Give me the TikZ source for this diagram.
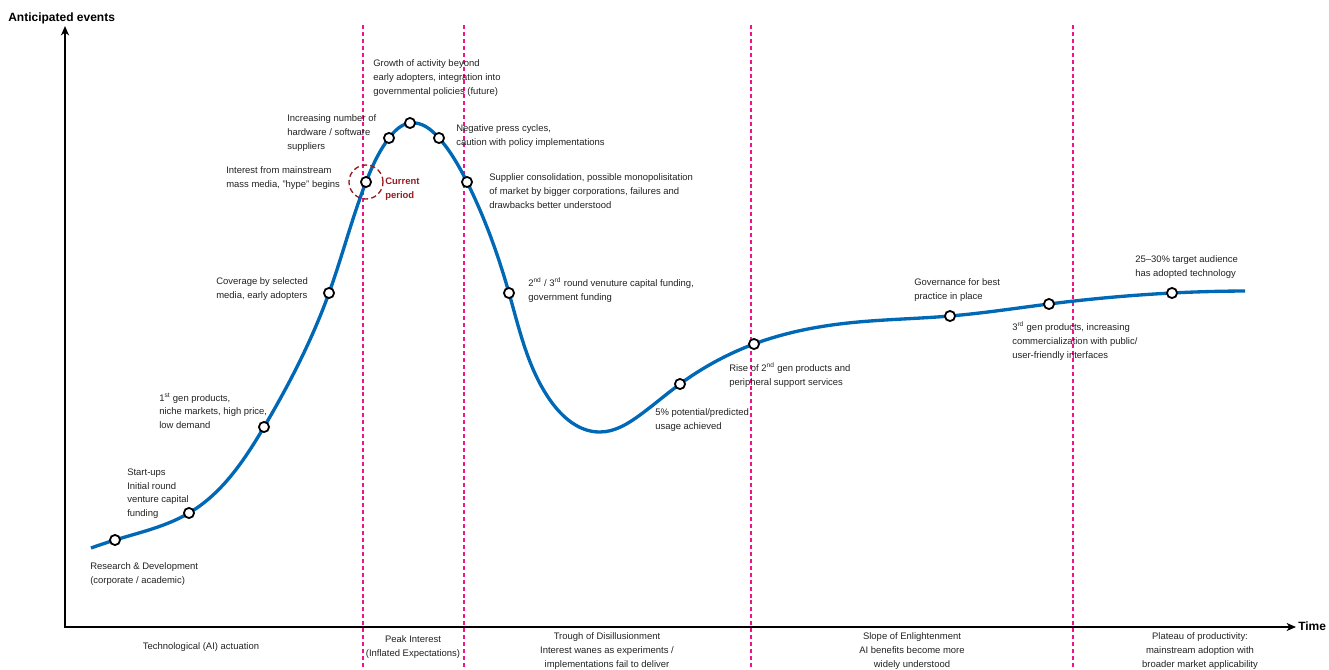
\documentclass[tikz,border=0pt]{standalone}
\usepackage{fontspec}
\setmainfont{Liberation Sans}
\usetikzlibrary{arrows.meta,hobby}
\definecolor{curveblue}{RGB}{0,104,180}
\definecolor{phasepink}{RGB}{240,20,140}
\definecolor{nowred}{RGB}{150,28,30}
\definecolor{textgray}{RGB}{35,35,35}
\begin{document}
\begin{tikzpicture}[x=0.75pt,y=-0.75pt,
  axis/.style={line width=1.8pt,black,{Stealth[length=7pt,width=6pt,inset=2pt]}-{Stealth[length=7pt,width=6pt,inset=2pt]}},
  divider/.style={phasepink,line width=1pt,dash pattern=on 3pt off 2.2pt},
  hype/.style={curveblue,line width=2.5pt},
  milestone/.style={circle,draw=black,fill=white,line width=1.35pt,minimum size=7.6pt,inner sep=0pt},
  lbl/.style={font=\fontsize{7.1}{10.3}\selectfont,text=textgray,align=left,anchor=north west,inner sep=0pt},
  phase/.style={font=\fontsize{7.1}{10.3}\selectfont,text=textgray,align=center,anchor=north,inner sep=0pt},
  axislbl/.style={font=\fontsize{9}{11}\selectfont\bfseries,text=black,inner sep=0pt,anchor=west}]
\useasboundingbox (0,0) rectangle (1329,669);

% phase dividers
\foreach \x [count=\i] in {363,464,751,1073}{
  \coordinate (dtop\i) at (\x,25);
  \coordinate (dbot\i) at (\x,669);
  \draw[divider] (dtop\i) -- (dbot\i);
}

% axes
\coordinate (origin) at (65,627);
\coordinate (ytip) at (65,26);
\coordinate (xtip) at (1296,627);
\draw[axis] (ytip) |- (xtip);
\node[axislbl] (ylabel) at (8,18) {Anticipated events};
\node[axislbl] (xlabel) at (1298,626) {Time};

% milestones on the hype curve
\coordinate (p1) at (115,540);
\coordinate (p2) at (189,513);
\coordinate (p3) at (264,427);
\coordinate (p4) at (329,293);
\coordinate (p5) at (366,182);
\coordinate (p6) at (389,138);
\coordinate (p7) at (410,123);
\coordinate (p8) at (439,138);
\coordinate (p9) at (467,182);
\coordinate (p10) at (509,293);
\coordinate (p11) at (680,384);
\coordinate (p12) at (754,344);
\coordinate (p13) at (950,316);
\coordinate (p14) at (1049,304);
\coordinate (p15) at (1172,293);
\coordinate (cstart) at (91,548);
\coordinate (dip) at (550,400);
\coordinate (trough) at (600,432);
\coordinate (climb) at (640,415);
\coordinate (cend) at (1245,291);

\draw[hype,use Hobby shortcut] (cstart) .. (p1) .. (p2) .. (p3) .. (p4) .. (p5)
  .. (p6) .. (p7) .. (p8) .. (p9) .. (p10) .. (dip) .. (trough) .. (climb)
  .. (p11) .. (p12) .. (848,323) .. (p13) .. (p14) .. (p15) .. (cend);

% current period marker
\node[circle,draw=nowred,dash pattern=on 4pt off 2.4pt,line width=1pt,minimum size=25.5pt,inner sep=0pt] (now) at (p5) {};
\node[font=\fontsize{7.1}{10.3}\selectfont\bfseries,text=nowred,align=left,anchor=north west,inner sep=0pt] (nowlbl) at (385,178) {Current\\period};

\foreach \i in {1,...,15}{ \node[milestone] (m\i) at (p\i) {}; }

% milestone labels
\node[lbl] (l1) at (90,562.5) {Research \& Development\\(corporate / academic)};
\node[lbl] (l2) at (127,468.5) {Start-ups\\Initial round\\venture capital\\funding};
\node[lbl] (l3) at (159,392.5) {1\textsuperscript{st} gen products,\\niche markets, high price,\\low demand};
\node[lbl] (l4) at (216,277.5) {Coverage by selected\\media, early adopters};
\node[lbl] (l5) at (226,166.5) {Interest from mainstream\\mass media, "hype" begins};
\node[lbl] (l6) at (287,114.5) {Increasing number of\\hardware / software\\suppliers};
\node[lbl] (l7) at (373,59.5) {Growth of activity beyond\\early adopters, integration into\\governmental policies (future)};
\node[lbl] (l8) at (456,124.5) {Negative press cycles,\\caution with policy implementations};
\node[lbl] (l9) at (489,173.5) {Supplier consolidation, possible monopolisitation\\of market by bigger corporations, failures and\\drawbacks better understood};
\node[lbl] (l10) at (528,277.5) {2\textsuperscript{nd} / 3\textsuperscript{rd} round venuture capital funding,\\government funding};
\node[lbl] (l11) at (655,408.5) {5\% potential/predicted\\usage achieved};
\node[lbl] (l12) at (729,362.5) {Rise of 2\textsuperscript{nd} gen products and\\peripheral support services};
\node[lbl] (l13) at (914,278.5) {Governance for best\\practice in place};
\node[lbl] (l14) at (1012,321.5) {3\textsuperscript{rd} gen products, increasing\\commercialization with public/\\user-friendly interfaces};
\node[lbl] (l15) at (1135,255.5) {25–30\% target audience\\has adopted technology};

% phase names
\node[phase] (ph1) at (201,642.5) {Technological (AI) actuation};
\node[phase] (ph2) at (413,635.5) {Peak Interest\\(Inflated Expectations)};
\node[phase] (ph3) at (607,632.5) {Trough of Disillusionment\\Interest wanes as experiments /\\implementations fail to deliver};
\node[phase] (ph4) at (912,632.5) {Slope of Enlightenment\\AI benefits become more\\widely understood};
\node[phase] (ph5) at (1200,632.5) {Plateau of productivity:\\mainstream adoption with\\broader market applicability};
\end{tikzpicture}
\end{document}
